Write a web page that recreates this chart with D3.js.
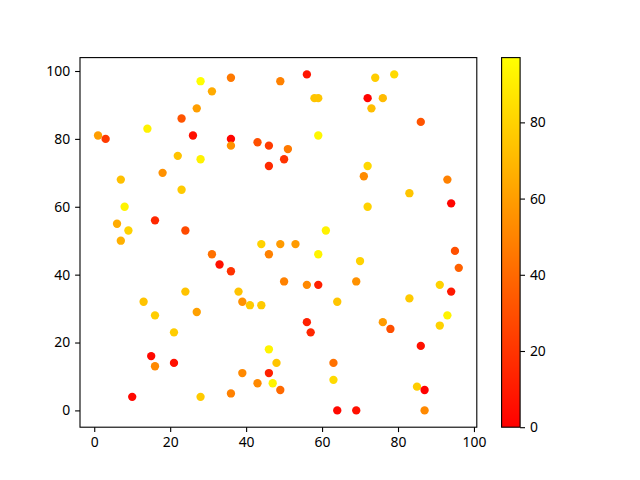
<html>
<head>
<title>scatter</title>
<script src="https://cdn.jsdelivr.net/npm/d3@7"></script>
<style>
  body { margin: 0; background: #fff; }
  text { font-family: "Noto Sans", sans-serif; font-size: 13.9px; fill: #000; }
</style>
</head>
<body>
<svg id="chart" width="640" height="480"></svg>
<script type="text/javascript">
  // points: x, y, colour value
  var xs = [1, 3, 14, 7, 8, 6, 9, 16, 24, 18, 23, 22, 23, 26, 27, 28, 31, 28, 36, 36, 36, 43, 46,
            49, 56, 58, 59, 51, 50, 46, 59, 72, 76, 74, 79, 73, 86, 72, 71, 93, 83, 94, 72, 61,
            7, 31, 33, 36, 44, 46, 24, 13, 16, 27, 21, 38, 39, 41, 44, 15, 16, 21, 10, 28, 36, 39, 43, 46, 46, 47,
            49, 53, 59, 70, 50, 56, 59, 69, 64, 56, 57, 76, 78, 83, 91, 94, 95, 96, 93, 91, 86, 48, 49, 63, 63, 64, 69, 85, 87, 87];
  var ys = [81, 80, 83, 68, 60, 55, 53, 56, 53, 70, 65, 75, 86, 81, 89, 97, 94, 74, 98, 80, 78, 79, 78,
            97, 99, 92, 92, 77, 74, 72, 81, 92, 92, 98, 99, 89, 85, 72, 69, 68, 64, 61, 60, 53,
            50, 46, 43, 41, 49, 46, 35, 32, 28, 29, 23, 35, 32, 31, 31, 16, 13, 14, 4, 4, 5, 11, 8, 18, 11, 8,
            49, 49, 46, 44, 38, 37, 37, 38, 32, 26, 23, 26, 24, 33, 37, 35, 47, 42, 28, 25, 19, 14, 6, 14, 9, 0, 0, 7, 6, 0];
  var cs = [60, 22, 92, 73, 93, 65, 80, 15, 28, 55, 77, 74, 32, 6, 60, 97, 65, 92, 46, 2, 55, 30, 22,
            49, 8, 75, 75, 46, 19, 16, 94, 1, 71, 78, 83, 72, 32, 82, 53, 49, 75, 2, 80, 92,
            67, 43, 6, 19, 80, 49, 74, 74, 78, 61, 78, 74, 55, 77, 77, 3, 52, 6, 3, 77, 49, 52, 52, 93, 12, 93,
            59, 59, 93, 80, 49, 52, 12, 55, 75, 12, 15, 59, 30, 77, 80, 9, 30, 37, 93, 80, 6, 75, 40, 43, 83, 3, 6, 78, 0, 52];
  var xTicks = [0, 20, 40, 60, 80, 100];
  var yTicks = [0, 20, 40, 60, 80, 100];
  var cTicks = [0, 20, 40, 60, 80];

  var svg = d3.select("#chart");
  var plotL = 80, plotR = 476.8, plotT = 57.6, plotB = 427.2;

  function padded(vals) {
    var e = d3.extent(vals), m = (e[1] - e[0]) * 0.05;
    return [e[0] - m, e[1] + m];
  }

  var x = d3.scaleLinear().domain(padded(xs)).range([plotL, plotR]);
  var y = d3.scaleLinear().domain(padded(ys)).range([plotB, plotT]);
  var cExt = d3.extent(cs);
  // matplotlib "autumn": red -> yellow
  var autumn = function(t) { return d3.rgb(255, Math.round(255 * t), 0).toString(); };
  var color = d3.scaleSequential(autumn).domain(cExt);

  var pts = d3.range(xs.length).map(function(i) { return {x: xs[i], y: ys[i], c: cs[i]}; });

  svg.append("g").selectAll("circle")
    .data(pts)
    .enter().append("circle")
      .attr("cx", function(d) { return x(d.x); })
      .attr("cy", function(d) { return y(d.y); })
      .attr("r", 4.17)
      .attr("fill", function(d) { return color(d.c); });

  svg.append("rect")
      .attr("x", plotL).attr("y", plotT)
      .attr("width", plotR - plotL).attr("height", plotB - plotT)
      .attr("fill", "none").attr("stroke", "#000").attr("stroke-width", 1.1);

  function styleAxis(g) {
    g.select(".domain").remove();
    g.selectAll(".tick line").attr("stroke", "#000").attr("stroke-width", 1.1);
    g.selectAll(".tick text").attr("font-family", "Noto Sans").attr("font-size", 13.9).attr("fill", "#000");
  }

  svg.append("g")
      .attr("transform", "translate(0," + plotB + ")")
      .call(d3.axisBottom(x).tickValues(xTicks).tickSize(4.9).tickPadding(4.9))
      .call(styleAxis);

  svg.append("g")
      .attr("transform", "translate(" + plotL + ",0)")
      .call(d3.axisLeft(y).tickValues(yTicks).tickSize(4.9).tickPadding(4.9))
      .call(styleAxis);

  // colorbar
  var cbX = 501.6, cbW = 18.5;
  var cy = d3.scaleLinear().domain(cExt).range([plotB, plotT]);

  var grad = svg.append("defs").append("linearGradient")
      .attr("id", "cbgrad")
      .attr("x1", "0").attr("y1", "1").attr("x2", "0").attr("y2", "0");
  grad.selectAll("stop")
    .data(d3.range(0, 1.0001, 0.1))
    .enter().append("stop")
      .attr("offset", function(d) { return d; })
      .attr("stop-color", function(d) { return autumn(d); });

  svg.append("rect")
      .attr("x", cbX).attr("y", plotT)
      .attr("width", cbW).attr("height", plotB - plotT)
      .attr("fill", "url(#cbgrad)")
      .attr("stroke", "#000").attr("stroke-width", 1.1);

  svg.append("g")
      .attr("transform", "translate(" + (cbX + cbW) + ",0)")
      .call(d3.axisRight(cy).tickValues(cTicks).tickSize(4.9).tickPadding(4.9))
      .call(styleAxis);
</script>
</body>
</html>
